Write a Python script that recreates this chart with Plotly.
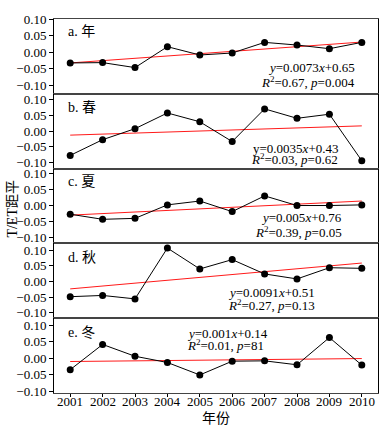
import plotly.graph_objects as go
from plotly.subplots import make_subplots

years = [2001, 2002, 2003, 2004, 2005, 2006, 2007, 2008, 2009, 2010]

annual = [-0.032, -0.031, -0.046, 0.017, -0.008, -0.002, 0.030, 0.022, 0.011, 0.030]
spring = [-0.077, -0.027, 0.008, 0.058, 0.030, -0.033, 0.071, 0.041, 0.054, -0.094]
summer = [-0.027, -0.043, -0.040, 0.002, 0.014, -0.019, 0.030, 0.000, 0.000, 0.002]
autumn = [-0.049, -0.045, -0.056, 0.107, 0.040, 0.070, 0.024, 0.008, 0.044, 0.042]
winter = [-0.035, 0.042, 0.006, -0.013, -0.051, -0.009, -0.008, -0.020, 0.063, -0.021]

# trend-line values read at 2001 and 2010
trend_start = [-0.032, -0.0125, -0.030, -0.024, -0.010]
trend_end = [0.031, 0.017, 0.014, 0.059, -0.001]

panel_labels = ["a. 年", "b. 春", "c. 夏", "d. 秋", "e. 冬"]
eq_line1 = ["<i>y</i>=0.0073<i>x</i>+0.65", "y=0.0035<i>x</i>+0.43",
            "<i>y</i>=0.005<i>x</i>+0.76", "<i>y</i>=0.0091<i>x</i>+0.51",
            "<i>y</i>=0.001<i>x</i>+0.14"]
eq_line2 = ["<i>R</i><sup>2</sup>=0.67, <i>p</i>=0.004", "<i>R</i><sup>2</sup>=0.03, <i>p</i>=0.62",
            "<i>R</i><sup>2</sup>=0.39, <i>p</i>=0.05", "<i>R</i><sup>2</sup>=0.27, <i>p</i>=0.13",
            "<i>R</i><sup>2</sup>=0.01, <i>p</i>=81"]
yticks = [-0.10, -0.05, 0.00, 0.05, 0.10]
series = [annual, spring, summer, autumn, winter]

y_ranges = [[-0.125, 0.1005], [-0.119, 0.119], [-0.118, 0.115], [-0.118, 0.122], [-0.106, 0.122]]

FONT = "Liberation Serif, Noto Sans CJK SC, serif"

fig = make_subplots(rows=5, cols=1, shared_xaxes=True, vertical_spacing=0)

for i, vals in enumerate(series):
    r = i + 1
    fig.add_trace(go.Scatter(x=[years[0], years[-1]], y=[trend_start[i], trend_end[i]],
                             mode="lines", line=dict(color="#ff1a1a", width=1),
                             showlegend=False, hoverinfo="skip"), row=r, col=1)
    fig.add_trace(go.Scatter(x=years, y=vals, mode="lines+markers",
                             line=dict(color="black", width=1),
                             marker=dict(color="black", size=7),
                             showlegend=False), row=r, col=1)
    fig.update_yaxes(range=y_ranges[i], tickvals=yticks, tickformat=".2f",
                     ticks="outside", ticklen=4, tickcolor="black",
                     showline=True, linecolor="black", linewidth=1, mirror=True,
                     showgrid=False, zeroline=False,
                     tickfont=dict(family=FONT, size=13, color="black"),
                     row=r, col=1)
    fig.update_xaxes(range=[2000.5, 2010.5], tickvals=years,
                     showline=True, linecolor="#444", linewidth=1, mirror=True,
                     showgrid=False, zeroline=False,
                     ticks="outside" if r == 5 else "", ticklen=3, tickcolor="black",
                     showticklabels=False,
                     row=r, col=1)

L, R, T, B = 54, 12, 14, 37
W, H = 391, 430
PW, PH = W - L - R, H - T - B


def px(xp, yp):
    return (xp - L) / PW, (H - B - yp) / PH


annots = []
# year tick labels on the bottom axis (x in data units)
for yr in years:
    _, y = px(0, 401.5)
    annots.append(dict(x=yr, y=y, xref="x5", yref="paper", text=str(yr), showarrow=False,
                       xanchor="center", yanchor="middle",
                       font=dict(family=FONT, size=13, color="black")))

label_y = [26.7, 104, 179, 256, 332]
for i, lab in enumerate(panel_labels):
    x, y = px(66, label_y[i])
    annots.append(dict(x=x, y=y, xref="paper", yref="paper", text=lab, showarrow=False,
                       xanchor="left", yanchor="middle",
                       font=dict(family=FONT, size=14, color="black")))

# equation positions: (anchor, x, y1, y2)
eq_pos = [("right", 358, 63.5, 77.5), ("right", 341, 145, 155.5),
          ("right", 345, 215.5, 229.5), ("center", 272, 291.5, 303.5),
          ("left", 185, 332.5, 344.5)]
for i in range(5):
    anc, xp, y1, y2 = eq_pos[i]
    for txt, yp in ((eq_line1[i], y1), (eq_line2[i], y2)):
        x, y = px(xp, yp)
        annots.append(dict(x=x, y=y, xref="paper", yref="paper", text=txt, showarrow=False,
                           xanchor=anc, yanchor="middle",
                           font=dict(family=FONT, size=13, color="black")))

x, y = px(12, 206)
annots.append(dict(x=x, y=y, xref="paper", yref="paper", text="T/ET距平", showarrow=False,
                   textangle=-90, xanchor="center", yanchor="middle",
                   font=dict(family=FONT, size=14, color="black")))
x, y = px(217, 419)
annots.append(dict(x=x, y=y, xref="paper", yref="paper", text="年份", showarrow=False,
                   xanchor="center", yanchor="middle",
                   font=dict(family=FONT, size=14, color="black")))

fig.update_layout(width=W, height=H, margin=dict(l=L, r=R, t=T, b=B),
                  plot_bgcolor="white", paper_bgcolor="white",
                  annotations=annots, showlegend=False,
                  font=dict(family=FONT, color="black"))

fig.write_html("out.html", config={"displayModeBar": False},
               post_script="document.body.style.margin='0';document.body.style.overflow='hidden';")
